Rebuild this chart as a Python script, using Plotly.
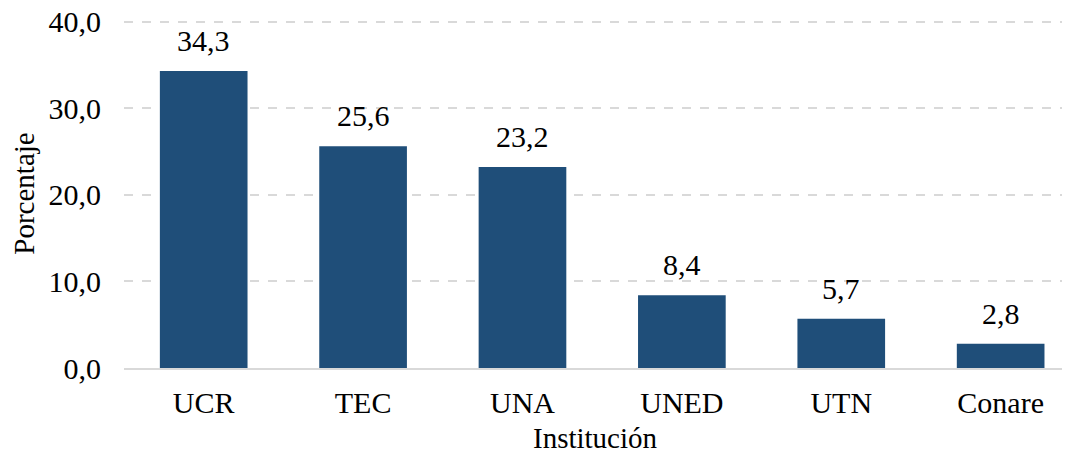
import plotly.graph_objects as go

categories = ["UCR", "TEC", "UNA", "UNED", "UTN", "Conare"]
values = [34.3, 25.6, 23.2, 8.4, 5.7, 2.8]
y_ticks = [0, 10, 20, 30, 40]

font_family = "Liberation Serif"
bar_color = "#1F4E79"

fig = go.Figure()
fig.add_trace(go.Bar(
    x=categories,
    y=values,
    marker=dict(color=bar_color, line=dict(width=0)),
    width=0.55,
    hoverinfo="x+y",
))

for c, v in zip(categories, values):
    fig.add_annotation(
        x=c, y=v, text=f"{v:.1f}".replace(".", ","),
        showarrow=False, yanchor="bottom", yshift=12,
        font=dict(family=font_family, size=30, color="black"),
    )

fig.update_layout(
    width=1062, height=446,
    margin=dict(l=116, r=4, t=11, b=86, autoexpand=False),
    paper_bgcolor="white", plot_bgcolor="white",
    separators=",.",
    showlegend=False,
    font=dict(family=font_family, size=30, color="black"),
    xaxis=dict(
        range=[-0.5, 5.41],
        automargin=False,
        showgrid=False,
        showline=True, linecolor="#D9D9D9", linewidth=2,
        ticks="", ticklabelstandoff=7,
        title=dict(text="Institución", standoff=19, font=dict(family=font_family, size=29)),
        tickfont=dict(family=font_family, size=30),
    ),
    yaxis=dict(
        range=[0, 40.3],
        automargin=False,
        tickvals=y_ticks,
        tickformat=".1f",
        ticklabeloverflow="allow",
        showgrid=True, gridcolor="#D9D9D9", griddash="dash", gridwidth=1.5,
        zeroline=False,
        showline=False,
        ticks="", ticklabelstandoff=22,
        title=dict(text="Porcentaje", standoff=13, font=dict(family=font_family, size=29)),
        tickfont=dict(family=font_family, size=30),
    ),
)

fig.write_html("out.html")
